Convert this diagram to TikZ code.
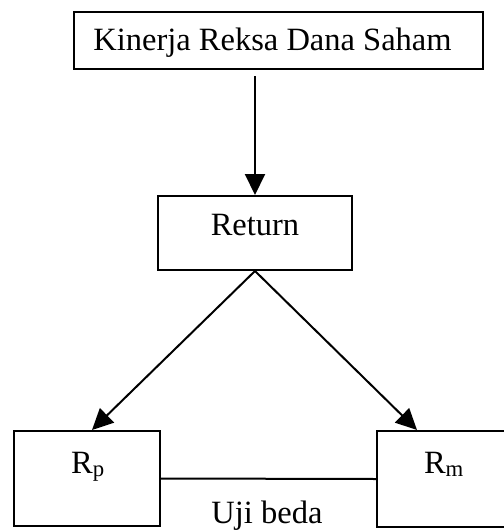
\documentclass[tikz,border=0pt]{standalone}
\usepackage{fontspec}
\setmainfont{Liberation Serif}
\usetikzlibrary{arrows.meta}
\begin{document}
\begin{tikzpicture}[x=1pt,y=-1pt,
  box/.style={draw, line width=2pt, inner sep=0pt},
  lbl/.style={font=\fontsize{32.5}{38}\selectfont, inner sep=0pt, anchor=base},
  arr/.style={line width=2pt, -{Triangle[length=21pt,width=20pt]}}]
\useasboundingbox (0,0) rectangle (504,531);
\clip (0,0) rectangle (504,531);
\node[box, minimum width=409pt, minimum height=57pt] (kin) at (278.5,40.5) {};
\node[lbl] (kint) at (272.5,50) {Kinerja Reksa Dana Saham};
\node[box, minimum width=194pt, minimum height=74pt] (ret) at (255,233) {};
\node[lbl] (rett) at (255,235) {Return};
\node[box, minimum width=146pt, minimum height=95pt] (rp) at (87,478.5) {};
\node[lbl] (rpt) at (88,473) {R\textsubscript{p}};
\node[box, minimum width=146pt, minimum height=96pt] (rm) at (450,479) {};
\node[lbl] (rmt) at (444,473) {R\textsubscript{m}};
\node[lbl] (uji) at (267,523) {Uji beda};
\draw[arr, shorten <=6pt] (kin.south -| ret.north) -- (ret.north);
\draw[arr] (ret.south) -- ([xshift=5pt]rp.north);
\draw[arr] (ret.south) -- ([xshift=41pt]rm.north west);
\draw[line width=2pt] (rp.east) -- (rm.west);
\end{tikzpicture}
\end{document}
